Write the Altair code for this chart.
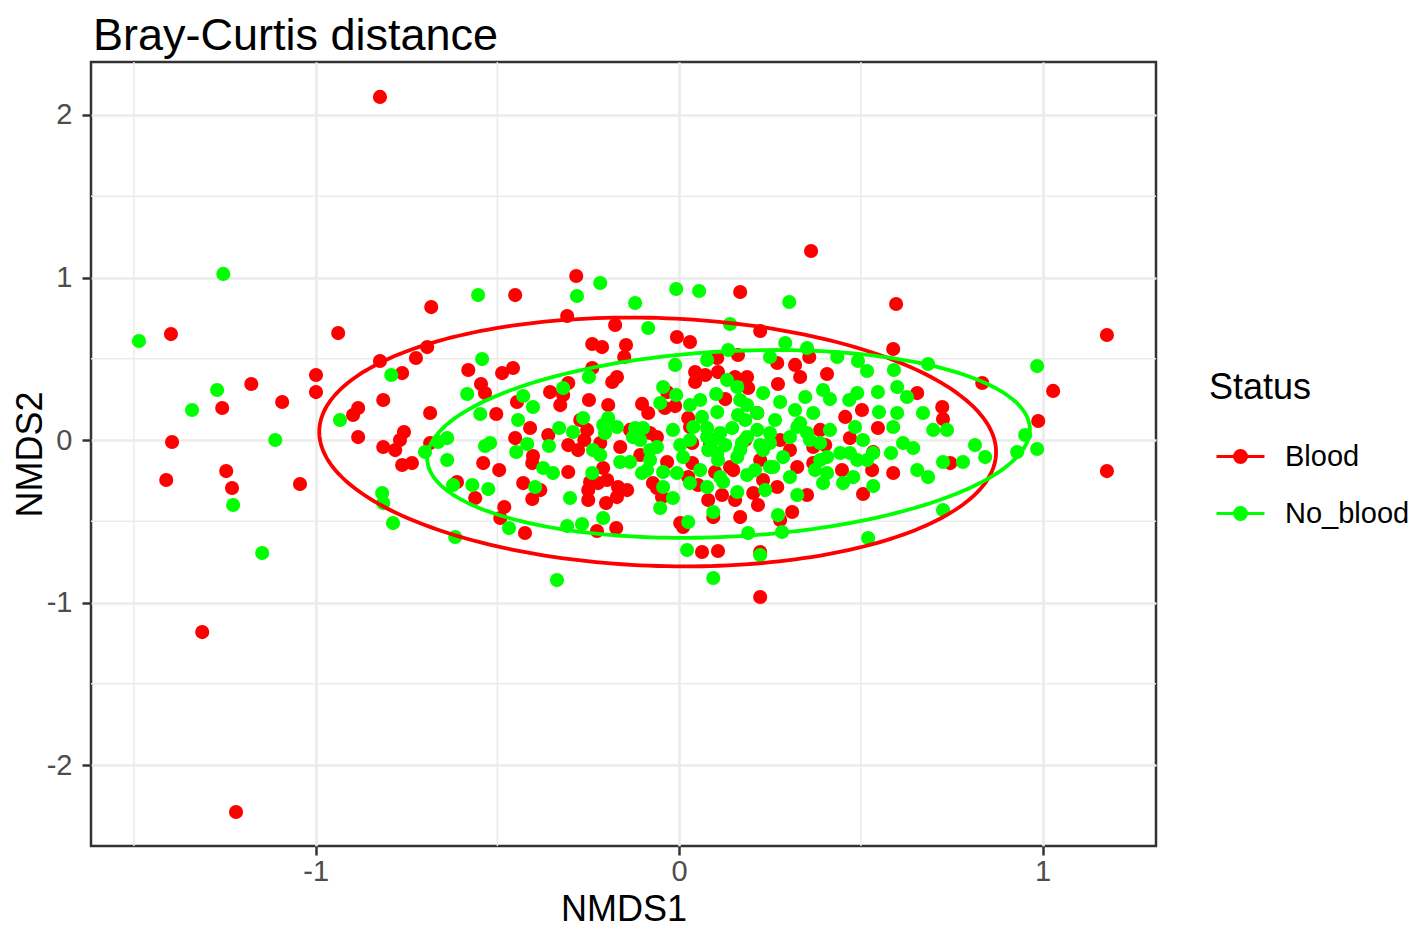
import altair as alt
import pandas as pd
import numpy as np

# ---- data (NMDS coordinates) ----
blood_x = [-0.823, 0.363, -1.398, -1.177, -1.257, -1.092, -1.395, -1.411, -1.246, -1.230,
           -1.043, -1.312, -1.219, 0.223, 1.177, 1.029, 0.988, 1.177, 0.834, 0.746,
           0.724, 0.726, 0.655, 0.589, 0.597, 0.107, 0.063, 0.223, -0.424, -0.561,
           -0.492, -0.226, -0.173, -0.201, -0.451, -0.283, 0.168, -0.682, -0.938, -0.308,
           -0.176, -0.006, 0.030, 0.223, -0.693, -0.724, -0.823, -0.999, -0.999, -0.762,
           -0.580, -0.545, -0.534, -0.487, -0.457, -0.814, -0.883, -0.897, -0.883, -0.757,
           -0.768, -0.814, -0.781, -0.762, -0.735, -0.685, -0.685, -0.451, -0.410, -0.539,
           -0.495, -0.429, -0.404, -0.382, -0.402, -0.611, -0.481, -0.503, -0.446, -0.355,
           -0.239, -0.212, -0.146, -0.151, 0.162, 0.270, 0.319, 0.105, -0.239, -0.184,
           -0.171, -0.305, -0.319, 0.044, 0.044, 0.072, 0.107, 0.154, 0.187, 0.190,
           0.272, -0.248, -0.195, -0.033, -0.011, -0.085, 0.127, 0.025, 0.358, 0.407,
           0.333, 0.457, -0.305, -0.278, -0.305, -0.250, -0.250, -0.217, -0.162, -0.209,
           -0.223, -0.168, -0.143, -0.171, -0.245, -0.080, -0.033, -0.061, -0.047, 0.011,
           0.003, 0.030, 0.036, 0.036, 0.025, 0.099, 0.080, 0.094, 0.118, 0.140,
           0.149, 0.154, 0.168, 0.204, 0.217, 0.231, 0.278, 0.305, 0.270, 0.278,
           0.311, 0.402, 0.352, 0.448, 0.534, 0.531, 0.506, 0.547, 0.589, -0.272,
           -0.261, -0.107, 0.085, 0.182, 0.223, 0.388, 0.470, 0.503, -0.360, -0.102,
           -0.039,
           -0.061, 0.215, 0.369, 0.325, 0.369, -0.072, 0.052, -0.327, -0.404, -0.253,
           -0.198, -0.135]
blood_y = [2.111, 1.163, 0.652, 0.345, 0.197, 0.234, -0.012, -0.246, -0.191, -0.295,
           -0.271, -1.182, -2.289, -0.966, 0.646, 0.302, 0.117, -0.191, 0.351, -0.142,
           0.203, 0.129, 0.289, 0.560, 0.837, -0.683, -0.689, -0.689, -0.572, -0.357,
           -0.480, -0.560, -0.542, -0.388, 0.892, 1.009, 0.911, 0.818, 0.658, 0.763,
           0.708, 0.634, 0.603, 0.671, 0.572, 0.505, 0.486, 0.400, 0.295, 0.412,
           0.431, 0.345, 0.289, 0.412, 0.443, 0.246, 0.197, 0.154, 0.018, 0.049,
           0.0, -0.043, -0.062, -0.154, -0.142, 0.166, -0.018, 0.012, 0.074, -0.142,
           -0.185, -0.265, -0.363, -0.308, -0.098, -0.258, -0.412, 0.160, 0.234, 0.295,
           0.591, 0.572, 0.585, 0.511, 0.523, 0.474, 0.462, 0.505, 0.443, 0.357,
           0.388, 0.351, 0.277, 0.418, 0.357, 0.400, 0.418, 0.388, 0.388, 0.320,
           0.345, 0.246, 0.215, 0.295, 0.209, 0.166, 0.252, 0.135, 0.511, 0.406,
           0.388, 0.142, -0.031, -0.062, -0.197, -0.369, -0.308, -0.018, -0.043, -0.172,
           -0.265, -0.289, -0.308, -0.351, -0.258, 0.043, -0.135, -0.295, -0.351, -0.535,
           -0.511, 0.080, -0.018, -0.142, -0.228, -0.197, -0.369, -0.474, -0.338, -0.166,
           -0.185, -0.369, -0.474, -0.326, -0.400, -0.246, 0.0, -0.062, -0.289, -0.492,
           -0.443, -0.031, -0.338, -0.185, -0.074, -0.185, -0.332, 0.074, -0.203, 0.123,
           0.0, -0.092, -0.031, 0.0, -0.123, 0.062, 0.012, 0.185, 0.031, 0.222,
           0.197,
           0.018, 0.166, -0.043, -0.166, -0.142, -0.265, -0.277, 0.215, -0.142, 0.062,
           -0.246, 0.062]

noblood_x = [-1.254, -1.486, -1.271, -1.340, -1.111, -1.227, -1.147, 0.985, 0.985, 0.952,
             0.930, 0.842, 0.814, 0.781, 0.726, 0.726, 0.685, 0.655, 0.699, 0.737,
             0.685, 0.671, 0.600, 0.591, 0.520, 0.094, 0.022, 0.223, -0.336, -0.616,
             -0.787, -0.817, -0.814, -0.468, -0.569, -0.622, -0.525, -0.267, -0.308, -0.209,
             -0.553, -0.281, -0.217, -0.121, -0.008, 0.055, 0.303, -0.085, 0.140, -0.542,
             -0.792, -0.583, -0.933, -0.699, -0.663, -0.638, -0.638, -0.520, -0.418, -0.396,
             -0.374, -0.547, -0.443, -0.429, -0.402, 0.292, 0.135, 0.250, 0.077, -0.011,
             -0.248, -0.319, 0.132, 0.160, -0.044, -0.008, -0.052, 0.102, 0.105, 0.231,
             0.278, 0.187, 0.162, 0.215, -0.264, -0.195, 0.063, 0.352, 0.435, 0.492,
             0.517, 0.396, 0.347, 0.415, 0.468, 0.490, 0.547, 0.600, 0.627, 0.550,
             0.369, -0.330, -0.292, -0.347, -0.239, -0.300, -0.204, -0.171, -0.162, -0.135,
             -0.102, -0.121, -0.061, -0.044, -0.017, -0.052, 0.025, 0.011, 0.030, 0.077,
             0.094, 0.080, 0.113, 0.107, 0.077, 0.094, 0.121, 0.146, 0.173, 0.160,
             0.187, 0.160, 0.190, 0.215, 0.250, 0.231, 0.250, 0.286, 0.305, 0.272,
             0.283, 0.325, 0.325, 0.352, 0.388, 0.396, 0.451, 0.443, 0.470, 0.484,
             0.506, 0.517, 0.534, 0.589, 0.583, 0.616, 0.644,
             0.030, 0.058, 0.127, 0.182, 0.223, 0.264, -0.107, -0.080, -0.217, 0.058,
             0.030, 0.168, 0.360, 0.374, 0.415, 0.319, 0.209, 0.237, 0.003, -0.358,
             -0.448, -0.534,
             0.039, 0.333, -0.099, -0.017, 0.077, 0.187, 0.250, 0.305, 0.388, 0.534,
             -0.080, 0.105, 0.168, 0.407, 0.490, -0.088, -0.006, 0.113, 0.259, 0.407,
             0.479, -0.044, -0.209, -0.237, -0.127]
noblood_y = [1.022, 0.609, 0.308, 0.185, 0.0, -0.400, -0.695, 0.455, -0.055, 0.031,
             -0.074, -0.105, -0.031, -0.135, -0.431, -0.135, -0.228, -0.185, 0.062, 0.062,
             0.468, 0.166, 0.166, 0.431, -0.603, -0.849, -0.677, -0.708, -0.862, -0.597,
             -0.511, -0.326, -0.388, -0.542, -0.277, -0.277, -0.302, -0.517, -0.529, -0.480,
             0.892, 0.886, 0.966, 0.843, 0.929, 0.917, 0.849, 0.689, 0.714, 0.498,
             0.400, 0.283, 0.123, -0.074, -0.012, 0.012, -0.123, -0.018, -0.025, -0.289,
             -0.172, 0.160, 0.123, 0.271, 0.203, 0.597, 0.554, 0.511, 0.492, 0.462,
             0.388, 0.320, 0.369, 0.326, 0.326, 0.277, 0.228, 0.283, 0.172, 0.289,
             0.234, 0.215, 0.154, 0.166, 0.135, 0.135, 0.142, 0.566, 0.511, 0.486,
             0.425, 0.308, 0.265, 0.252, 0.246, 0.289, 0.295, 0.326, 0.265, 0.172,
             0.166, 0.074, 0.049, -0.203, -0.203, -0.357, 0.043, 0.080, -0.135, -0.135,
             -0.203, 0.074, -0.043, -0.197, -0.357, -0.418, -0.505, -0.105, -0.265, 0.074,
             0.0, -0.062, 0.043, -0.123, -0.289, -0.443, -0.258, 0.074, -0.018, -0.105,
             -0.215, -0.320, -0.572, 0.062, 0.043, -0.062, -0.166, -0.105, -0.228, -0.462,
             -0.566, -0.338, 0.080, 0.043, -0.123, -0.265, -0.265, -0.080, -0.080, 0.080,
             0.0, -0.123, -0.283, 0.080, -0.080, -0.018, -0.049,
             0.0, -0.185, -0.031, 0.123, -0.031, 0.123, 0.0, -0.123, -0.092, 0.246,
             0.215, 0.246, 0.0, -0.185, 0.062, 0.185, -0.185, -0.308, -0.031, -0.037,
             -0.074, -0.037,
             0.080, 0.105, 0.074, 0.062, 0.018, 0.018, -0.018, 0.018, -0.018, -0.080,
             -0.062, -0.080, -0.062, -0.105, -0.123, -0.185, -0.203, -0.228, -0.166, -0.203,
             -0.228, -0.289, 0.092, -0.062, 0.018]

assert len(blood_x) == len(blood_y)
assert len(noblood_x) == len(noblood_y)

status_levels = ["Blood", "No_blood"]
status_colors = ["#FF0000", "#00FF00"]

# 95% ellipses (parameters): centre, half-width, half-height, tilt term
ell_cx = [-0.059, 0.136]
ell_cy = [-0.012, -0.024]
ell_a = [0.931, 0.829]
ell_b = [0.763, 0.571]
ell_c = [-0.062, 0.089]

minor_x = [-1.5, -0.5, 0.5]
minor_y = [-1.5, -0.5, 0.5, 1.5]

# ---- tables ----
pts = pd.DataFrame({
    "NMDS1": blood_x + noblood_x,
    "NMDS2": blood_y + noblood_y,
    "Status": ["Blood"] * len(blood_x) + ["No_blood"] * len(noblood_x),
})

t = np.linspace(0, 2 * np.pi, 241)
rows = []
for s, cx, cy, a, b, c in zip(status_levels, ell_cx, ell_cy, ell_a, ell_b, ell_c):
    for i, tt in enumerate(t):
        rows.append({"NMDS1": cx + a * np.cos(tt),
                     "NMDS2": cy + b * np.sin(tt) + c * np.cos(tt),
                     "Status": s, "idx": i})
ell = pd.DataFrame(rows)

FONT = "Liberation Sans"
xscale = alt.Scale(domain=[-1.618, 1.312], nice=False, zero=False)
yscale = alt.Scale(domain=[-2.498, 2.326], nice=False, zero=False)
cscale = alt.Scale(domain=status_levels, range=status_colors)

xaxis = alt.Axis(values=[-1, 0, 1], title="NMDS1", labelExpr="datum.value + ''",
                 labelBaseline="alphabetic", labelPadding=25,
                 titleBaseline="alphabetic", titleY=74)
yaxis = alt.Axis(values=[-2, -1, 0, 1, 2], title="NMDS2", labelExpr="datum.value + ''",
                 labelPadding=10, titleBaseline="alphabetic", titleX=-50, titleY=392)

minor_x_rules = alt.Chart(pd.DataFrame({"NMDS1": minor_x})).mark_rule(
    color="#EBEBEB", strokeWidth=1.5).encode(
    x=alt.X("NMDS1:Q", scale=xscale, axis=xaxis))
minor_y_rules = alt.Chart(pd.DataFrame({"NMDS2": minor_y})).mark_rule(
    color="#EBEBEB", strokeWidth=1.5).encode(
    y=alt.Y("NMDS2:Q", scale=yscale, axis=yaxis))

legend_path = ("M-1,0L1,0M-0.25,0A0.25,0.25,0,1,1,0.25,0"
               "A0.25,0.25,0,1,1,-0.25,0Z")


def make_legend():
    return alt.Legend(
        title="Status", orient="none", legendX=1118, legendY=309,
        symbolType=legend_path, symbolSize=2304, symbolOffset=6,
        symbolStrokeWidth=3, symbolOpacity=1, labelOffset=19, rowPadding=16,
        titlePadding=24, padding=0,
    )


points = alt.Chart(pts).mark_circle(size=200, opacity=1).encode(
    x=alt.X("NMDS1:Q", scale=xscale, axis=xaxis),
    y=alt.Y("NMDS2:Q", scale=yscale, axis=yaxis),
    color=alt.Color("Status:N", scale=cscale, legend=make_legend()),
)

ellipses = alt.Chart(ell).mark_line(strokeWidth=3.8).encode(
    x=alt.X("NMDS1:Q", scale=xscale, axis=xaxis),
    y=alt.Y("NMDS2:Q", scale=yscale, axis=yaxis),
    stroke=alt.Stroke("Status:N", scale=cscale, legend=make_legend()),
    detail="Status:N",
    order="idx:Q",
)

chart = alt.layer(minor_x_rules, minor_y_rules, points, ellipses).properties(
    width=1065, height=784,
    title=alt.TitleParams("Bray-Curtis distance", anchor="start", fontSize=45,
                          font=FONT, fontWeight="normal", color="black",
                          offset=2, dx=2, frame="group"),
    autosize=alt.AutoSizeParams(type="none"),
    padding={"left": 83, "top": 54, "right": 254, "bottom": 82},
).configure_view(
    stroke="#333333", strokeWidth=2.5
).configure_axis(
    labelFont=FONT, labelFontSize=29, labelColor="#4D4D4D",
    titleFont=FONT, titleFontSize=36, titleFontWeight="normal", titleColor="black",
    tickColor="#333333", tickSize=9, tickWidth=2.5,
    domain=False, gridColor="#EBEBEB", gridWidth=2.6,
).configure_legend(
    titleFont=FONT, titleFontSize=36, titleFontWeight="normal", titleColor="black",
    labelFont=FONT, labelFontSize=29, labelColor="black",
)

chart.save("out.html", embed_options={"renderer": "svg", "actions": False})
